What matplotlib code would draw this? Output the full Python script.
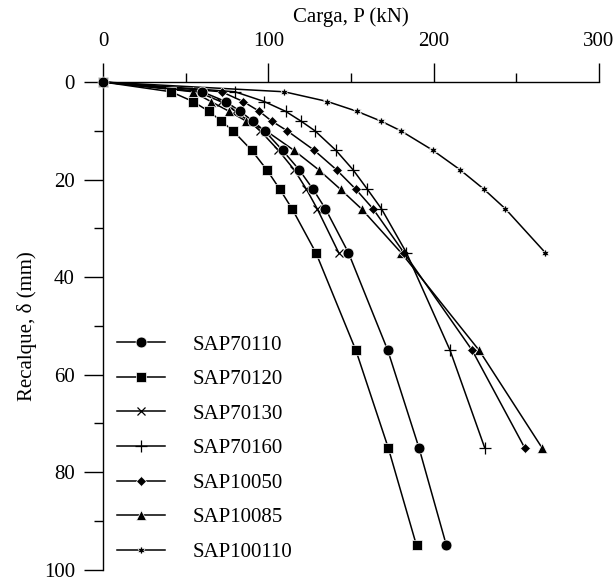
import matplotlib
matplotlib.use("Agg")
import matplotlib.pyplot as plt

# settlement levels (mm)
recalque = [0, 2, 4, 6, 8, 10, 14, 18, 22, 26, 35, 55, 75, 95]

# load (kN) for each pile
sap70110 = [0, 59.9, 74.0, 82.9, 90.4, 97.6, 108.5, 118.6, 127.0, 134.5, 148.4, 172.2, 191.1, 207.7]
sap70120 = [0, 41.0, 54.3, 63.9, 71.4, 78.5, 89.8, 99.0, 106.9, 114.3, 128.7, 152.9, 172.5, 189.6]
sap70130 = [0, 57.0, 71.0, 80.0, 88.0, 95.0, 106.0, 115.6, 123.0, 129.5, 142.5]
sap70160 = [0, 79.7, 97.4, 110.3, 119.6, 128.1, 140.8, 151.2, 159.9, 168.4, 183.5, 209.9, 230.9]
sap10050 = [0, 71.6, 84.7, 94.4, 101.9, 111.3, 127.7, 141.2, 152.9, 163.3, 182.0, 223.3, 255.1]
sap10085 = [0, 54.3, 65.1, 76.1, 86.4, 98.5, 115.4, 130.4, 143.6, 156.3, 180.3, 227.5, 265.6]
sap100110 = [0, 109.5, 135.7, 153.5, 168.0, 180.1, 199.5, 216.0, 230.5, 243.4, 267.6]

nomes = ["SAP70110", "SAP70120", "SAP70130", "SAP70160", "SAP10050", "SAP10085", "SAP100110"]


def main():
    plt.rcParams['font.family'] = ['Liberation Serif', 'DejaVu Serif']
    plt.rcParams['font.size'] = 15

    fig = plt.figure(figsize=(6.13, 5.80), dpi=100)
    ax = fig.add_axes([0.1685, 0.0175, 0.8085, 0.8411])

    series = [sap70110, sap70120, sap70130, sap70160, sap10050, sap10085, sap100110]
    markers = ['o', 's', 'x', '+', 'D', '^', (6, 1, 0)]
    sizes = [7.8, 7.2, 6, 8, 5.5, 6.8, 6.5]
    zorders = [9, 8, 4, 7, 6, 5, 3]

    for y, nome, m, ms, z in zip(series, nomes, markers, sizes, zorders):
        filled = m not in ('x', '+')
        ax.plot(y, recalque[:len(y)], color='black', lw=1.1, marker=m, ms=ms,
                mfc='black', mec='white' if filled else 'black',
                mew=0.5 if filled else 0.9, label=nome, zorder=z, clip_on=False)

    ax.set_xlim(0, 300)
    ax.set_ylim(100, 0)
    ax.xaxis.set_ticks_position('top')
    ax.xaxis.set_label_position('top')
    ax.set_xticks([0, 100, 200, 300])
    ax.set_xticks([50, 150, 250], minor=True)
    ax.set_yticks([0, 20, 40, 60, 80, 100])
    ax.set_yticks([10, 30, 50, 70, 90], minor=True)
    ax.tick_params(which='major', direction='out', length=13.5, width=1, pad=7)
    ax.tick_params(axis='x', which='major', pad=9)
    ax.tick_params(which='minor', direction='out', length=6.5, width=1)
    ax.spines['right'].set_visible(False)
    ax.spines['bottom'].set_visible(False)
    for s in ('top', 'left'):
        ax.spines[s].set_linewidth(1)
    ax.patch.set_visible(False)

    ax.set_xlabel("Carga, P (kN)", labelpad=7)
    ax.set_ylabel("Recalque, δ (mm)", labelpad=5)

    ax.legend(loc='lower left', bbox_to_anchor=(0.191, 0.031), bbox_transform=fig.transFigure,
              frameon=False, handlelength=2.3, handletextpad=1.35, labelspacing=0.72,
              borderpad=0, borderaxespad=0)

    fig.savefig("out.png", dpi=100)
    print("OK")


if __name__ == "__main__":
    main()
